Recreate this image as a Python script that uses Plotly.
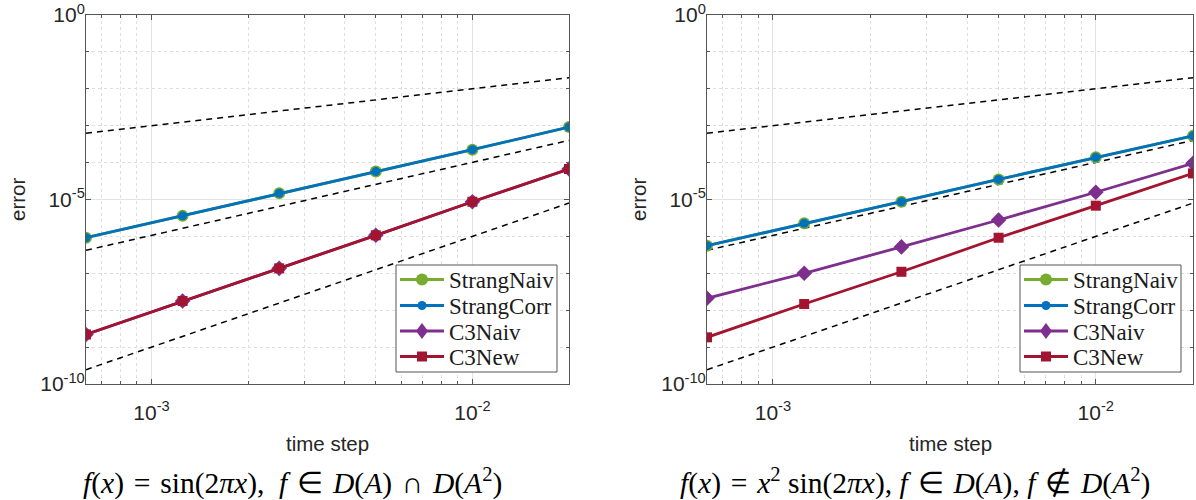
import plotly.graph_objects as go

# time steps (shared by both experiments)
h = [0.000625, 0.00125, 0.0025, 0.005, 0.01, 0.02]

# f(x) = sin(2*pi*x)
left_strang_naiv = [9.2e-7, 3.6e-6, 1.47e-5, 5.7e-5, 2.24e-4, 9.2e-4]
left_strang_corr = [9.2e-7, 3.6e-6, 1.47e-5, 5.7e-5, 2.24e-4, 9.2e-4]
left_c3_naiv = [2.2e-9, 1.77e-8, 1.36e-7, 1.07e-6, 8.7e-6, 6.7e-5]
left_c3_new = [2.2e-9, 1.77e-8, 1.36e-7, 1.07e-6, 8.7e-6, 6.7e-5]

# f(x) = x^2 sin(2*pi*x)
right_strang_naiv = [5.6e-7, 2.26e-6, 8.7e-6, 3.5e-5, 1.39e-4, 5.3e-4]
right_strang_corr = [5.6e-7, 2.26e-6, 8.7e-6, 3.5e-5, 1.39e-4, 5.3e-4]
right_c3_naiv = [2.1e-8, 1.0e-7, 5.2e-7, 2.78e-6, 1.57e-5, 9.6e-5]
right_c3_new = [1.84e-9, 1.47e-8, 1.1e-7, 9.2e-7, 6.8e-6, 5.1e-5]

# reference slopes (order 1, 2, 3), endpoints at the first and last step
ref_h = [0.000625, 0.02]
ref_order1 = [6.25e-4, 2.0e-2]
ref_order2 = [4.2e-7, 4.0e-4]
ref_order3 = [2.44e-10, 8.0e-6]

series_names = ["StrangNaiv", "StrangCorr", "C3Naiv", "C3New"]
colors = ["#77AC30", "#0072BD", "#7E2F8E", "#A2142F"]
symbols = ["circle", "circle", "diamond", "square"]
sizes = [12, 9, 12, 10]

y_tickvals = [1e-10, 1e-5, 1e0]
y_ticktext = ["10<sup>-10</sup>", "10<sup>-5</sup>", "10<sup>0</sup>"]
x_tickvals = [1e-3, 1e-2]
x_ticktext = ["10<sup>-3</sup>", "10<sup>-2</sup>"]
y_minor = [10.0 ** k for k in range(-10, 1)]
x_minor = [m * 10.0 ** e for e in (-4, -3, -2) for m in range(1, 10)]

sp = "\u2004"  # slightly wider space around relations
titles = [
    f"<i>f</i>(<i>x</i>){sp}={sp}sin(2<i>πx</i>),  <i>f</i>{sp}∈{sp}<i>D</i>(<i>A</i>){sp}∩{sp}<i>D</i>(<i>A</i><sup>2</sup>)",
    f"<i>f</i>(<i>x</i>){sp}={sp}<i>x</i><sup>2</sup> sin(2<i>πx</i>), <i>f</i>{sp}∈{sp}<i>D</i>(<i>A</i>), <i>f</i>{sp}∉{sp}<i>D</i>(<i>A</i><sup>2</sup>)",
]

W, H = 1196, 500
panels = [
    dict(x0=86, x1=569, data=[left_strang_naiv, left_strang_corr, left_c3_naiv, left_c3_new],
         title_cx=292),
    dict(x0=707, x1=1193, data=[right_strang_naiv, right_strang_corr, right_c3_naiv, right_c3_new],
         title_cx=915),
]
top_px, bot_px = 15, 384


def px(v):
    return v / W


def py(v):
    return 1 - v / H


fig = go.Figure()
sans = "Liberation Sans, Arial, sans-serif"
serif = "Liberation Serif, Times New Roman, serif"
frame = "#555555"


def legend_box(right_px):
    """Boxed key in the lower right corner of a panel."""
    left = right_px - 161
    top, bottom = 265, 372
    fig.add_shape(type="rect", xref="paper", yref="paper",
                  x0=px(left), x1=px(right_px), y0=py(bottom), y1=py(top),
                  fillcolor="white", line=dict(color=frame, width=1), layer="above")
    row_y = [279.5, 305.5, 331, 356.5]
    mx = left + 26
    for k, name in enumerate(series_names):
        yc = row_y[k]
        c = colors[k]
        fig.add_shape(type="line", xref="paper", yref="paper",
                      x0=px(left + 4), x1=px(left + 48), y0=py(yc), y1=py(yc),
                      line=dict(color=c, width=2.8), layer="above")
        if symbols[k] == "circle":
            r = sizes[k] / 2
            fig.add_shape(type="circle", xref="paper", yref="paper",
                          x0=px(mx - r), x1=px(mx + r), y0=py(yc + r), y1=py(yc - r),
                          fillcolor=c, line=dict(width=0), layer="above")
        elif symbols[k] == "diamond":
            hw, hh = 6, 8
            path = (f"M {px(mx - hw)} {py(yc)} L {px(mx)} {py(yc - hh)} "
                    f"L {px(mx + hw)} {py(yc)} L {px(mx)} {py(yc + hh)} Z")
            fig.add_shape(type="path", xref="paper", yref="paper", path=path,
                          fillcolor=c, line=dict(width=0), layer="above")
        else:
            r = 5
            fig.add_shape(type="rect", xref="paper", yref="paper",
                          x0=px(mx - r), x1=px(mx + r), y0=py(yc + r), y1=py(yc - r),
                          fillcolor=c, line=dict(width=0), layer="above")
        fig.add_annotation(x=px(left + 51), y=py(yc + 1), xref="paper", yref="paper",
                           xanchor="left", yanchor="middle", showarrow=False,
                           text=name, font=dict(family=serif, size=23, color="#1a1a1a"))


for i, p in enumerate(panels):
    xa = "x" if i == 0 else "x2"
    ya = "y" if i == 0 else "y2"
    for ref in (ref_order1, ref_order2, ref_order3):
        fig.add_trace(go.Scatter(x=ref_h, y=ref, mode="lines", xaxis=xa, yaxis=ya,
                                 line=dict(color="black", width=1.5, dash="6px,5px"),
                                 showlegend=False, hoverinfo="skip"))
    for k, name in enumerate(series_names):
        fig.add_trace(go.Scatter(
            x=h, y=p["data"][k], mode="lines+markers", name=name, xaxis=xa, yaxis=ya,
            showlegend=False,
            line=dict(color=colors[k], width=2.8),
            marker=dict(symbol=symbols[k], size=sizes[k], color=colors[k],
                        line=dict(width=0)),
        ))

    axis_common = dict(
        type="log", showline=True, linecolor=frame, linewidth=1, mirror="ticks",
        ticks="inside", ticklen=5, tickcolor=frame, automargin=False,
        showgrid=True, gridcolor="#e3e3e3", gridwidth=1, zeroline=False,
        tickfont=dict(family=sans, size=21, color="#262626"),
    )
    xdom = [p["x0"] / W, p["x1"] / W]
    ydom = [1 - bot_px / H, 1 - top_px / H]
    xkey = "xaxis" if i == 0 else "xaxis2"
    ykey = "yaxis" if i == 0 else "yaxis2"
    fig.update_layout(**{
        xkey: dict(axis_common, domain=xdom, anchor=ya,
                   range=[-3.2041, -1.69897], tickvals=x_tickvals, ticktext=x_ticktext,
                   ticklabelstandoff=10,
                   minor=dict(tickvals=x_minor, ticks="inside", ticklen=3, tickcolor=frame,
                              showgrid=True, gridcolor="#dedede", griddash="dot", gridwidth=1)),
        ykey: dict(axis_common, domain=ydom, anchor=xa,
                   range=[-10, 0], tickvals=y_tickvals, ticktext=y_ticktext,
                   ticklabelstandoff=-4,
                   minor=dict(tickvals=y_minor, ticks="inside", ticklen=3, tickcolor=frame,
                              showgrid=True, gridcolor="#dedede", griddash="dot", gridwidth=1)),
    })

    legend_box(p["x1"] - 12)

    cx = (p["x0"] + p["x1"]) / 2
    fig.add_annotation(x=px(cx), y=py(443), xref="paper", yref="paper",
                       xanchor="center", yanchor="middle",
                       text="time step", showarrow=False,
                       font=dict(family=sans, size=20.5, color="#262626"))
    fig.add_annotation(x=px(p["x0"] - 69), y=py(200), xref="paper", yref="paper",
                       xanchor="center", yanchor="middle",
                       text="error", textangle=-90, showarrow=False,
                       font=dict(family=sans, size=20.5, color="#262626"))
    fig.add_annotation(x=px(p["title_cx"]), y=py(481), xref="paper", yref="paper",
                       xanchor="center", yanchor="middle",
                       text=titles[i], showarrow=False,
                       font=dict(family=serif, size=29.5, color="black"))

fig.update_layout(
    width=W, height=H, margin=dict(l=0, r=0, t=0, b=0, autoexpand=False),
    paper_bgcolor="white", plot_bgcolor="white", showlegend=False,
)

fig.write_html("out.html")
